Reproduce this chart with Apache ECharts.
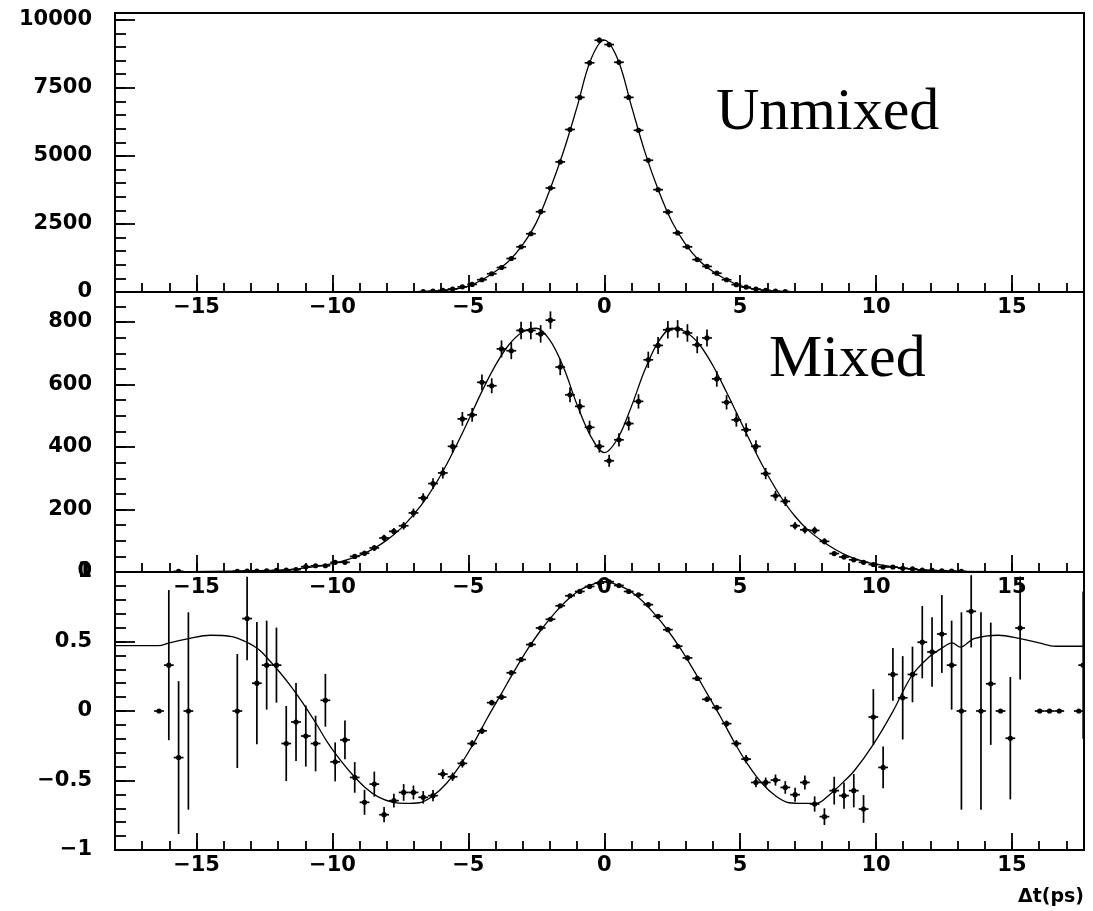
<!DOCTYPE html>
<html><head><meta charset="utf-8">
<script src="https://cdn.jsdelivr.net/npm/echarts@6.0.0/dist/echarts.min.js"></script>
<style>html,body{margin:0;padding:0;background:#fff}#c{width:1093px;height:911px}</style>
</head><body><div id="c"></div><script>
// ---------------- data ----------------
const halfBin = 0.18;
const xMin = -18, xMax = 17.65;

const xMajorTicks = [-15, -10, -5, 0, 5, 10, 15];
const xMinorTicks = [-18,-17,-16,-15,-14,-13,-12,-11,-10,-9,-8,-7,-6,-5,-4,-3,-2,-1,0,1,2,3,4,5,6,7,8,9,10,11,12,13,14,15,16,17];

const unmixedTicks = [0, 2500, 5000, 7500, 10000];
const unmixedMinor = [0,500,1000,1500,2000,2500,3000,3500,4000,4500,5000,5500,6000,6500,7000,7500,8000,8500,9000,9500,10000];
const mixedTicks = [0, 200, 400, 600, 800];
const mixedMinor = [0,50,100,150,200,250,300,350,400,450,500,550,600,650,700,750,800,850];
const asymTicks = [-1, -0.5, 0, 0.5, 1];
const asymMinor = [-1,-0.9,-0.8,-0.7,-0.6,-0.5,-0.4,-0.3,-0.2,-0.1,0,0.1,0.2,0.3,0.4,0.5,0.6,0.7,0.8,0.9,1];

// Unmixed
const unmixedX = [-6.66,-6.30,-5.94,-5.58,-5.22,-4.86,-4.50,-4.14,-3.78,-3.42,-3.06,-2.70,-2.34,-1.98,-1.62,-1.26,-0.90,-0.54,-0.18,0.18,0.54,0.90,1.26,1.62,1.98,2.34,2.70,3.06,3.42,3.78,4.14,4.50,4.86,5.22,5.58,5.94,6.30,6.66];
const unmixedY = [15,30,60,110,190,280,450,670,900,1230,1660,2140,2950,3820,4780,5970,7150,8420,9250,9090,8440,7150,5940,4840,3760,2940,2170,1660,1190,940,690,450,270,180,110,60,30,15];
const unmixedErr = [4,6,8,10,14,17,21,26,30,35,41,46,54,62,69,77,85,92,96,95,92,85,77,70,61,54,47,41,34,31,26,21,16,13,10,8,6,4];
const unmixedFitX = [-18,-7,-6.5,-6,-5.5,-5,-4.5,-4,-3.5,-3,-2.5,-2,-1.5,-1,-0.5,0,0.5,1,1.5,2,2.5,3,3.5,4,4.5,5,5.5,6,6.5,7,17.65];
const unmixedFitY = [0,8,20,50,110,220,440,760,1150,1740,2550,3760,5160,6800,8520,9250,8540,6830,5130,3720,2560,1740,1150,750,450,235,115,52,20,8,0];

// Mixed
const mixedX = [-15.66,-13.50,-13.14,-12.78,-12.42,-12.06,-11.70,-11.34,-10.98,-10.62,-10.26,-9.90,-9.54,-9.18,-8.82,-8.46,-8.10,-7.74,-7.38,-7.02,-6.66,-6.30,-5.94,-5.58,-5.22,-4.86,-4.50,-4.14,-3.78,-3.42,-3.06,-2.70,-2.34,-1.98,-1.62,-1.26,-0.90,-0.54,-0.18,0.18,0.54,0.90,1.26,1.62,1.98,2.34,2.70,3.06,3.42,3.78,4.14,4.50,4.86,5.22,5.58,5.94,6.30,6.66,7.02,7.38,7.74,8.10,8.46,8.82,9.18,9.54,9.90,10.26,10.62,10.98,11.34,11.70,12.06,12.42,12.78,13.14];
const mixedY = [2,2,3,3,4,5,6,8,17,20,20,31,31,50,60,77,109,130,148,189,237,283,317,402,490,503,607,596,714,708,773,773,762,806,656,567,530,463,402,356,423,475,546,679,725,775,778,765,727,749,618,543,487,455,402,315,244,226,148,135,133,98,59,48,39,31,24,16,16,12,10,6,5,4,3,2];
const mixedErr = [1.5,1.5,2,2,2,2,2.5,3,4,4.5,4.5,5.5,5.5,7,8,9,10,11,12,14,15,17,18,20,22,22,25,24,27,27,28,28,28,28,26,24,23,21,20,19,21,22,23,26,27,28,28,28,27,27,25,23,22,21,20,18,16,15,12,12,12,10,8,7,6,5.5,5,4,4,3.5,3,2.5,2,2,2,1.5];
const mixedFitX = [-18,-12,-11,-10,-9.5,-9,-8.5,-8,-7.5,-7,-6.5,-6,-5.5,-5,-4.5,-4,-3.5,-3,-2.5,-2,-1.5,-1,-0.5,0,0.5,1,1.5,2,2.5,3,3.5,4,4.5,5,5.5,6,6.5,7,7.5,8,8.5,9,9.5,10,11,12,13,17.65];
const mixedFitY = [0,5,13,27,38,53,74,102,138,185,242,312,395,485,578,662,728,768,780,742,655,535,435,382,428,530,648,738,780,768,728,660,575,485,395,312,240,180,134,100,72,50,35,25,12,5,2,0];

// Asymmetry
const asymX = [-16.38,-16.02,-15.66,-15.30,-13.50,-13.14,-12.78,-12.42,-12.06,-11.70,-11.34,-10.98,-10.62,-10.26,-9.90,-9.54,-9.18,-8.82,-8.46,-8.10,-7.74,-7.38,-7.02,-6.66,-6.30,-5.94,-5.58,-5.22,-4.86,-4.50,-4.14,-3.78,-3.42,-3.06,-2.70,-2.34,-1.98,-1.62,-1.26,-0.90,-0.54,-0.18,
  0.18,0.54,0.90,1.26,1.62,1.98,2.34,2.70,3.06,3.42,3.78,4.14,4.50,4.86,5.22,5.58,5.94,6.30,6.66,7.02,7.38,7.74,8.10,8.46,8.82,9.18,9.54,9.90,10.26,10.62,10.98,11.34,11.70,12.06,12.42,12.78,13.14,13.50,13.86,14.22,14.58,14.94,15.30,16.02,16.38,16.74,17.46,17.62];
const asymY = [0,0.33,-0.335,0,0,0.665,0.20,0.33,0.33,-0.234,-0.079,-0.18,-0.234,0.077,-0.366,-0.208,-0.478,-0.657,-0.526,-0.746,-0.645,-0.586,-0.586,-0.621,-0.609,-0.454,-0.473,-0.377,-0.234,-0.143,0.06,0.10,0.275,0.37,0.478,0.597,0.66,0.757,0.829,0.86,0.896,0.92,
  0.93,0.903,0.86,0.836,0.765,0.681,0.585,0.466,0.382,0.234,0.084,0.024,-0.091,-0.234,-0.346,-0.514,-0.514,-0.497,-0.55,-0.602,-0.514,-0.669,-0.76,-0.573,-0.609,-0.573,-0.705,-0.043,-0.406,0.263,0.095,0.263,0.495,0.425,0.554,0.33,0,0.717,0,0.196,0,-0.196,0.597,0,0,0,0,0.33];
const asymErr = [0,0.54,0.55,0.71,0.41,0.30,0.44,0.32,0.27,0.27,0.28,0.22,0.20,0.19,0.14,0.14,0.11,0.09,0.09,0.055,0.05,0.06,0.05,0.045,0.04,0.035,0.03,0.03,0.025,0.022,0.02,0.02,0.018,0.016,0.015,0.013,0.012,0.012,0.01,0.01,0.01,0.01,
  0.01,0.01,0.01,0.01,0.012,0.012,0.013,0.015,0.016,0.018,0.02,0.02,0.022,0.025,0.03,0.035,0.035,0.04,0.045,0.05,0.05,0.055,0.06,0.1,0.095,0.12,0.1,0.2,0.15,0.19,0.3,0.2,0.26,0.25,0.28,0.32,0.71,0.26,0.71,0.44,0,0.44,0.37,0,0,0,0,0.53];
const asymFitX = [-18,-16.4,-16.0,-15.3,-14.5,-13.7,-13.1,-12.7,-12.3,-11.9,-11.5,-11.1,-10.6,-10.2,-9.8,-9.3,-8.8,-8.3,-7.8,-7.3,-6.8,-6.3,-5.8,-5.3,-4.8,-4.3,-3.8,-3.3,-2.8,-2.3,-1.8,-1.3,-0.8,-0.3,0,0.3,0.8,1.3,1.8,2.3,2.8,3.3,3.8,4.3,4.8,5.3,5.8,6.3,6.8,7.3,7.8,8.3,8.8,9.2,9.9,10.6,11.3,11.9,12.4,12.8,13.1,13.6,14.5,15.3,16.0,16.6,17.65];
const asymFitY = [0.47,0.47,0.49,0.52,0.545,0.535,0.49,0.44,0.36,0.27,0.17,0.06,-0.09,-0.22,-0.33,-0.45,-0.55,-0.62,-0.655,-0.665,-0.66,-0.61,-0.52,-0.39,-0.23,-0.05,0.12,0.29,0.45,0.59,0.71,0.81,0.88,0.92,0.93,0.92,0.88,0.81,0.71,0.59,0.45,0.29,0.12,-0.05,-0.23,-0.39,-0.52,-0.61,-0.66,-0.665,-0.665,-0.6,-0.51,-0.43,-0.24,-0.01,0.25,0.38,0.45,0.49,0.46,0.52,0.545,0.52,0.49,0.466,0.466];

// ---------------- chart ----------------
const LABEL_FONT = {color: '#000', fontFamily: 'DejaVu Sans', fontSize: 21, fontWeight: 'bold'};
const fmt = v => String(v).replace('-', '\u2212');
const tickStyle = {color: '#000', width: 1.8};

const panels = [
  {top: 13, height: 279, min: 0, max: 10250, ticks: unmixedTicks, minor: unmixedMinor,
   x: unmixedX, y: unmixedY, e: unmixedErr, fx: unmixedFitX, fy: unmixedFitY},
  {top: 292, height: 280, min: 0, max: 896, ticks: mixedTicks, minor: mixedMinor,
   x: mixedX, y: mixedY, e: mixedErr, fx: mixedFitX, fy: mixedFitY},
  {top: 572, height: 278, min: -1, max: 1, ticks: asymTicks, minor: asymMinor,
   x: asymX, y: asymY, e: asymErr, fx: asymFitX, fy: asymFitY}
];

const grid = [], xAxis = [], yAxis = [], series = [];
panels.forEach((p, i) => {
  grid.push({left: 115, right: 9, top: p.top, height: p.height, show: true,
    borderColor: '#000', borderWidth: 2, backgroundColor: 'transparent', outerBoundsMode: 'none', containLabel: false});
  const noLine = {show: false, onZero: false};
  xAxis.push({type: 'value', gridIndex: i, min: xMin, max: xMax, position: 'bottom',
    axisLine: noLine, splitLine: {show: false},
    axisTick: {show: true, inside: true, length: 17, customValues: xMajorTicks, lineStyle: tickStyle},
    axisLabel: Object.assign({show: true, customValues: xMajorTicks, formatter: fmt, margin: 5}, LABEL_FONT)});
  xAxis.push({type: 'value', gridIndex: i, min: xMin, max: xMax, position: 'bottom',
    axisLine: noLine, splitLine: {show: false},
    axisTick: {show: true, inside: true, length: 9, customValues: xMinorTicks, lineStyle: tickStyle},
    axisLabel: {show: false}});
  yAxis.push({type: 'value', gridIndex: i, min: p.min, max: p.max, position: 'left',
    axisLine: noLine, splitLine: {show: false},
    axisTick: {show: true, inside: true, length: 20, customValues: p.ticks, lineStyle: tickStyle},
    axisLabel: Object.assign({show: true, customValues: p.ticks, formatter: fmt, margin: 23}, LABEL_FONT)});
  yAxis.push({type: 'value', gridIndex: i, min: p.min, max: p.max, position: 'left',
    axisLine: noLine, splitLine: {show: false},
    axisTick: {show: true, inside: true, length: 11, customValues: p.minor, lineStyle: tickStyle},
    axisLabel: {show: false}});

  series.push({
    type: 'line', xAxisIndex: 2 * i, yAxisIndex: 2 * i,
    data: p.fx.map((v, k) => [v, p.fy[k]]),
    showSymbol: false, smooth: 0.35,
    lineStyle: {color: '#000', width: 1.3}, silent: true, animation: false, z: 3
  });
  series.push({
    type: 'custom', xAxisIndex: 2 * i, yAxisIndex: 2 * i, clip: true, animation: false, z: 4,
    data: p.x.map((v, k) => [v, p.y[k], p.e[k]]),
    encode: {x: 0, y: 1},
    renderItem: function (params, api) {
      const x = api.value(0), y = api.value(1), e = api.value(2);
      const c = api.coord([x, y]);
      const l = api.coord([x - halfBin, y]);
      const r = api.coord([x + halfBin, y]);
      const t = api.coord([x, y + e]);
      const b = api.coord([x, y - e]);
      const st = {stroke: '#000', lineWidth: 1.7};
      const ch = [
        {type: 'line', shape: {x1: l[0], y1: l[1], x2: r[0], y2: r[1]}, style: st},
        {type: 'circle', shape: {cx: c[0], cy: c[1], r: 2.6}, style: {fill: '#000'}}
      ];
      if (e > 0) ch.push({type: 'line', shape: {x1: t[0], y1: t[1], x2: b[0], y2: b[1]}, style: st});
      return {type: 'group', children: ch};
    }
  });
});

const chart = echarts.init(document.getElementById('c'), null, {renderer: 'canvas'});
chart.setOption({
  animation: false,
  backgroundColor: '#fff',
  grid, xAxis, yAxis, series,
  graphic: [
    {type: 'text', x: 716, y: 113, style: {text: 'Unmixed', fill: '#000', font: '60px "Liberation Serif"', align: 'left', verticalAlign: 'middle'}},
    {type: 'text', x: 769, y: 360, style: {text: 'Mixed', fill: '#000', font: '60px "Liberation Serif"', align: 'left', verticalAlign: 'middle'}},
    {type: 'text', x: 1084, y: 897, style: {text: '\u0394t(ps)', fill: '#000', font: 'bold 19px "DejaVu Sans"', align: 'right', verticalAlign: 'middle'}}
  ]
});
</script></body></html>
